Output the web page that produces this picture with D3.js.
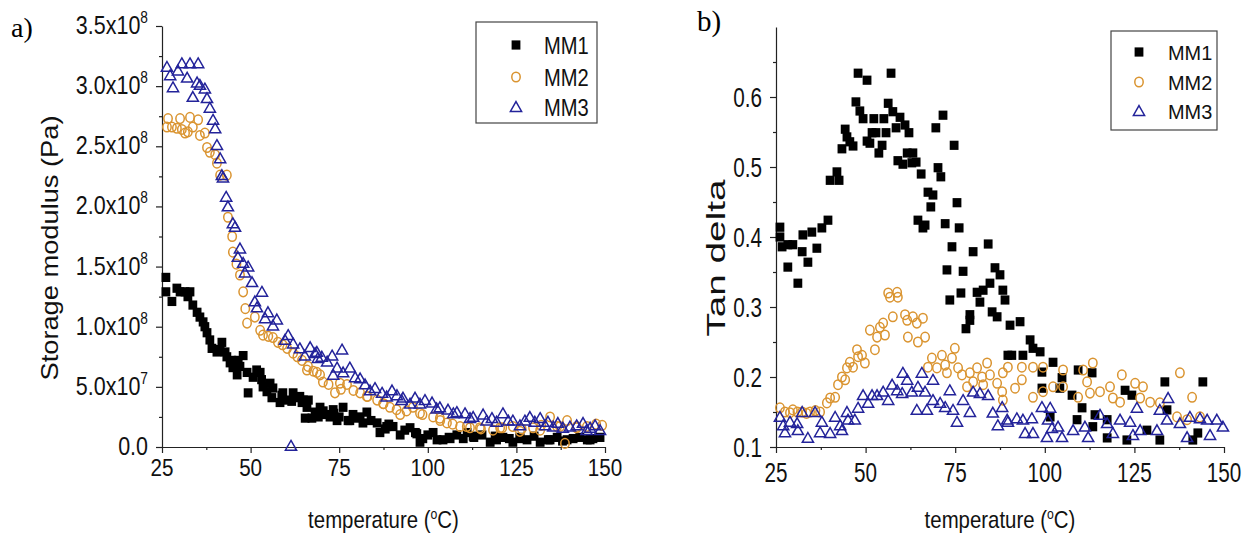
<!DOCTYPE html>
<html>
<head>
<meta charset="utf-8">
<script src="https://cdn.jsdelivr.net/npm/d3@7"></script>
<style>
  body { margin: 0; background: #fff; }
  svg { display: block; }
  text { fill: #111; }
</style>
</head>
<body>
<svg id="fig" width="1254" height="539"></svg>
<script>
// ---------- data ----------
const seriesNames = ["MM1", "MM2", "MM3"];
const temperatureTicks = [25, 50, 75, 100, 125, 150];
const temperatureMinorTicks = [37.5, 62.5, 87.5, 112.5, 137.5];
const storageTicks = [0, 0.5e8, 1.0e8, 1.5e8, 2.0e8, 2.5e8, 3.0e8, 3.5e8];
const storageMinorTicks = [0.25e8, 0.75e8, 1.25e8, 1.75e8, 2.25e8, 2.75e8, 3.25e8];
const tanTicks = [0.1, 0.2, 0.3, 0.4, 0.5, 0.6];
const tanMinorTicks = [0.15, 0.25, 0.35, 0.45, 0.55, 0.65];

// storage modulus, [temperature °C, E' in Pa]
const storageMM1 = [
  [26.1,1.41e8],[26.1,1.29e8],[27.8,1.21e8],[29.2,1.32e8],[30.1,1.29e8],[31.5,1.29e8],[32.3,1.25e8],
  [32.9,1.29e8],[33.7,1.18e8],[34.9,1.12e8],[35.7,1.08e8],[36.6,1.04e8],[37.1,1.00e8],[37.7,0.95e8],
  [38.5,0.89e8],[39.1,0.82e8],[40.5,0.79e8],[41.4,0.81e8],[41.9,0.87e8],[42.8,0.79e8],[43.3,0.75e8],
  [44.2,0.70e8],[44.7,0.72e8],[45.0,0.66e8],[46.2,0.60e8],[46.5,0.72e8],[47.0,0.67e8],[47.9,0.76e8],
  [49.0,0.62e8],[49.3,0.45e8],[50.7,0.58e8],[51.7,0.64e8],[52.7,0.62e8],[53.1,0.56e8],[53.5,0.50e8],
  [54.6,0.46e8],[55.5,0.53e8],[56.0,0.41e8],[56.3,0.49e8],[58.3,0.37e8],[58.8,0.43e8],[59.1,0.45e8],
  [60.3,0.39e8],[61.6,0.38e8],[62.0,0.45e8],[63.1,0.41e8],[63.9,0.42e8],[64.5,0.37e8],[64.9,0.39e8],
  [65.4,0.24e8],[65.9,0.33e8],[66.3,0.39e8],[67.3,0.24e8],[68.2,0.29e8],[69.1,0.25e8],[69.6,0.33e8],
  [70.5,0.30e8],[71.0,0.27e8],[72.4,0.25e8],[73.3,0.31e8],[73.5,0.28e8],[74.4,0.22e8],[75.0,0.25e8],
  [76.1,0.33e8],[77.5,0.22e8],[78.0,0.22e8],[78.9,0.27e8],[80.0,0.24e8],[80.9,0.25e8],[81.7,0.20e8],
  [82.8,0.29e8],[84.0,0.22e8],[85.7,0.20e8],[86.5,0.12e8],[88.0,0.15e8],[88.4,0.17e8],[89.0,0.19e8],
  [90.2,0.17e8],[92.2,0.10e8],[93.5,0.14e8],[95.0,0.16e8],[96.5,0.12e8],[96.9,0.11e8],[97.8,0.04e8],
  [98.6,0.07e8],[100.0,0.10e8],[101.5,0.12e8],[102.6,0.06e8],[104.3,0.06e8],[106.0,0.08e8],[106.3,0.07e8],
  [108.2,0.10e8],[110.0,0.07e8],[111.1,0.12e8],[112.8,0.09e8],[113.0,0.08e8],[115.3,0.10e8],[117.6,0.04e8],
  [119.0,0.09e8],[119.4,0.06e8],[121.2,0.08e8],[123.0,0.07e8],[124.0,0.04e8],[126.0,0.08e8],[126.0,0.07e8],
  [128.0,0.06e8],[130.0,0.09e8],[131.7,0.04e8],[134.0,0.06e8],[134.5,0.06e8],[136.5,0.08e8],[138.0,0.05e8],
  [139.3,0.06e8],[141.0,0.07e8],[142.9,0.08e8],[145.0,0.06e8],[145.8,0.06e8],[146.6,0.07e8],[148.6,0.08e8]
];
const storageMM2 = [
  [26.4,2.66e8],[26.7,2.73e8],[27.8,2.66e8],[29.2,2.65e8],[30.1,2.73e8],[30.6,2.64e8],[31.5,2.61e8],
  [32.3,2.62e8],[32.9,2.74e8],[33.7,2.66e8],[35.2,2.72e8],[35.7,2.59e8],[37.1,2.61e8],[37.7,2.49e8],
  [38.5,2.45e8],[40.0,2.43e8],[40.5,2.36e8],[41.4,2.26e8],[43.3,2.26e8],[43.6,1.91e8],[44.8,1.75e8],
  [45.0,1.62e8],[46.0,1.52e8],[47.0,1.43e8],[47.9,1.29e8],[48.5,1.15e8],[49.0,1.03e8],[51.2,1.08e8],
  [52.7,0.97e8],[53.5,0.93e8],[55.0,0.92e8],[56.3,0.91e8],[57.7,0.87e8],[59.0,0.85e8],[60.3,0.82e8],
  [62.0,0.78e8],[63.2,0.75e8],[64.5,0.72e8],[65.9,0.64e8],[66.2,0.67e8],[67.7,0.63e8],[68.7,0.62e8],
  [69.6,0.60e8],[70.4,0.54e8],[72.0,0.52e8],[73.8,0.45e8],[75.2,0.53e8],[75.5,0.48e8],[77.2,0.52e8],
  [79.0,0.47e8],[80.9,0.45e8],[82.8,0.42e8],[83.0,0.42e8],[85.7,0.39e8],[87.4,0.36e8],[87.5,0.36e8],
  [89.3,0.33e8],[91.2,0.31e8],[92.2,0.27e8],[94.0,0.30e8],[95.8,0.33e8],[97.8,0.28e8],[98.5,0.27e8],
  [101.5,0.25e8],[103.4,0.24e8],[103.5,0.22e8],[105.4,0.20e8],[107.0,0.19e8],[109.1,0.17e8],[111.0,0.17e8],
  [111.9,0.16e8],[114.7,0.16e8],[115.0,0.15e8],[118.4,0.14e8],[120.4,0.16e8],[121.0,0.16e8],[124.0,0.17e8],
  [126.0,0.13e8],[126.5,0.15e8],[129.7,0.16e8],[131.7,0.14e8],[132.0,0.18e8],[134.5,0.25e8],[136.5,0.17e8],
  [137.3,0.17e8],[138.7,0.03e8],[139.3,0.22e8],[142.0,0.16e8],[142.0,0.17e8],[144.9,0.17e8],[147.5,0.19e8],
  [149.2,0.18e8]
];
const storageMM3 = [
  [26.4,3.16e8],[27.3,3.09e8],[28.1,2.99e8],[29.5,3.13e8],[30.6,3.19e8],[32.1,3.07e8],[32.9,3.19e8],
  [33.7,2.91e8],[34.9,3.03e8],[35.2,3.19e8],[35.7,3.01e8],[37.1,2.98e8],[37.7,2.90e8],[38.5,2.82e8],
  [39.4,2.72e8],[40.0,2.65e8],[40.5,2.51e8],[41.4,2.40e8],[41.9,2.26e8],[42.2,2.24e8],[43.1,2.08e8],
  [43.6,2.00e8],[45.0,1.86e8],[45.6,1.83e8],[46.4,1.58e8],[47.0,1.65e8],[47.9,1.53e8],[48.4,1.45e8],
  [49.3,1.50e8],[50.4,1.37e8],[51.2,1.21e8],[51.8,1.16e8],[53.2,1.29e8],[54.1,1.07e8],[54.9,1.12e8],
  [56.3,1.01e8],[57.4,1.06e8],[59.7,0.89e8],[60.6,0.93e8],[61.4,0.01e8],[62.0,0.86e8],[63.9,0.82e8],
  [65.3,0.76e8],[66.8,0.83e8],[68.2,0.78e8],[68.7,0.79e8],[69.0,0.74e8],[70.1,0.75e8],[71.6,0.71e8],
  [73.0,0.76e8],[73.3,0.60e8],[74.4,0.66e8],[75.8,0.81e8],[76.1,0.62e8],[78.0,0.66e8],[79.5,0.58e8],
  [80.9,0.57e8],[82.3,0.52e8],[83.7,0.47e8],[85.1,0.49e8],[87.1,0.45e8],[88.4,0.42e8],[89.9,0.47e8],
  [91.3,0.43e8],[92.6,0.39e8],[93.0,0.41e8],[95.0,0.36e8],[96.4,0.41e8],[97.8,0.36e8],[99.2,0.39e8],
  [101.2,0.37e8],[102.5,0.32e8],[103.4,0.33e8],[105.7,0.31e8],[107.2,0.28e8],[108.2,0.29e8],[110.5,0.28e8],
  [111.9,0.24e8],[112.8,0.25e8],[115.6,0.27e8],[116.6,0.22e8],[118.1,0.24e8],[119.4,0.21e8],[121.2,0.28e8],
  [122.7,0.22e8],[124.0,0.22e8],[126.0,0.18e8],[127.4,0.22e8],[128.8,0.25e8],[130.2,0.21e8],[131.7,0.24e8],
  [133.1,0.18e8],[133.9,0.21e8],[135.4,0.17e8],[136.7,0.20e8],[138.1,0.16e8],[140.1,0.17e8],[142.0,0.18e8],
  [143.8,0.20e8],[144.8,0.14e8],[145.8,0.16e8],[147.2,0.18e8],[148.6,0.14e8]
];

// tan delta, [temperature °C, tan δ]
const tanMM1 = [
  [26.1,0.414],[26.1,0.400],[26.7,0.386],[28.3,0.389],[28.3,0.357],[29.7,0.389],[31.1,0.334],[32.3,0.379],
  [32.5,0.403],[33.9,0.364],[35.0,0.407],[36.4,0.384],[37.8,0.413],[39.5,0.424],[40.1,0.481],[42.0,0.493],
  [42.6,0.481],[43.4,0.526],[44.3,0.554],[44.8,0.543],[45.6,0.536],[46.5,0.530],[47.3,0.593],[47.9,0.634],
  [48.4,0.580],[49.3,0.569],[50.4,0.624],[50.4,0.537],[51.2,0.534],[51.8,0.549],[52.3,0.569],[52.9,0.549],
  [53.7,0.520],[54.6,0.531],[55.1,0.569],[55.7,0.549],[56.3,0.591],[57.1,0.634],[57.6,0.579],[58.5,0.556],
  [59.0,0.509],[59.6,0.571],[60.4,0.504],[61.0,0.560],[61.6,0.520],[62.1,0.549],[62.9,0.506],[63.2,0.520],
  [64.1,0.507],[64.6,0.424],[65.5,0.490],[66.0,0.413],[66.6,0.417],[67.4,0.464],[68.2,0.443],[68.8,0.460],
  [69.6,0.556],[70.2,0.499],[71.0,0.486],[71.6,0.574],[72.2,0.419],[72.7,0.353],[73.5,0.310],[74.1,0.386],
  [74.7,0.531],[75.5,0.449],[76.1,0.413],[76.6,0.320],[77.2,0.351],[78.0,0.269],[79.1,0.281],[79.1,0.289],
  [80.0,0.379],[81.1,0.321],[81.9,0.307],[82.8,0.324],[84.2,0.390],[84.7,0.334],[85.3,0.293],[86.1,0.356],
  [86.7,0.286],[87.5,0.346],[88.3,0.324],[88.9,0.310],[89.7,0.231],[90.3,0.274],[90.8,0.231],[93.1,0.279],
  [93.9,0.231],[95.9,0.253],[96.7,0.241],[98.7,0.236],[99.2,0.207],[99.2,0.184],[101.5,0.143],[102.3,0.221],
  [104.2,0.184],[104.8,0.199],[107.6,0.174],[109.0,0.139],[109.3,0.210],[110.4,0.156],[113.2,0.206],
  [113.4,0.129],[114.0,0.146],[117.4,0.139],[117.4,0.113],[122.4,0.181],[122.9,0.110],[124.3,0.174],
  [128.5,0.124],[132.1,0.110],[133.5,0.193],[134.1,0.153],[141.3,0.110],[142.7,0.120],[144.1,0.193]
];
const tanMM2 = [
  [26.1,0.156],[27.5,0.150],[28.9,0.149],[29.7,0.153],[31.0,0.150],[32.3,0.150],[33.5,0.148],[34.5,0.150],
  [36.0,0.152],[37.3,0.150],[39.2,0.163],[40.1,0.170],[41.5,0.171],[42.3,0.189],[43.4,0.200],[44.3,0.196],
  [44.8,0.213],[45.6,0.221],[46.5,0.214],[47.6,0.239],[47.9,0.229],[49.0,0.231],[49.8,0.220],[51.2,0.267],
  [52.6,0.239],[53.2,0.257],[54.0,0.271],[54.9,0.277],[55.4,0.260],[56.3,0.320],[56.8,0.314],[57.6,0.286],
  [58.8,0.321],[59.0,0.314],[61.0,0.289],[61.6,0.281],[61.8,0.257],[63.2,0.286],[64.3,0.277],[64.6,0.250],
  [66.0,0.284],[66.6,0.257],[67.4,0.214],[68.5,0.227],[69.9,0.213],[71.3,0.231],[72.2,0.217],[72.7,0.206],
  [74.1,0.227],[74.9,0.241],[75.8,0.213],[76.9,0.203],[78.3,0.186],[79.1,0.206],[80.0,0.193],[81.1,0.213],
  [82.5,0.200],[82.8,0.189],[83.9,0.220],[84.7,0.203],[86.7,0.191],[88.1,0.179],[88.3,0.206],[88.3,0.167],
  [89.7,0.214],[91.7,0.184],[93.6,0.214],[93.6,0.196],[96.7,0.214],[96.7,0.171],[99.5,0.214],[99.5,0.179],
  [102.3,0.186],[105.1,0.210],[105.1,0.186],[109.3,0.171],[110.7,0.210],[111.8,0.193],[112.6,0.177],
  [113.4,0.220],[115.4,0.179],[118.2,0.186],[119.0,0.170],[121.0,0.164],[121.5,0.203],[125.2,0.191],
  [126.6,0.170],[127.4,0.186],[129.4,0.164],[132.1,0.163],[136.9,0.143],[137.7,0.206],[139.7,0.139],
  [141.1,0.171],[143.3,0.143]
];
const tanMM3 = [
  [26.1,0.143],[27.0,0.131],[27.5,0.121],[28.9,0.136],[30.9,0.134],[31.1,0.124],[32.3,0.150],[33.9,0.113],
  [35.9,0.150],[37.3,0.121],[37.8,0.136],[40.1,0.120],[41.5,0.143],[42.9,0.131],[43.4,0.124],[44.8,0.150],
  [45.1,0.139],[47.0,0.139],[47.9,0.156],[49.3,0.174],[50.7,0.163],[51.8,0.174],[53.2,0.174],[54.9,0.179],
  [56.3,0.167],[57.4,0.189],[58.8,0.181],[60.2,0.177],[60.4,0.206],[61.6,0.196],[62.9,0.179],[64.3,0.153],
  [64.6,0.186],[65.7,0.206],[66.6,0.179],[67.1,0.153],[68.8,0.196],[68.8,0.167],[70.8,0.163],[72.2,0.157],
  [73.5,0.181],[74.4,0.153],[75.5,0.136],[77.2,0.167],[79.1,0.150],[80.0,0.179],[81.9,0.177],[84.2,0.174],
  [85.5,0.149],[86.9,0.131],[88.1,0.157],[89.5,0.139],[89.7,0.136],[92.2,0.141],[93.9,0.139],[94.5,0.120],
  [96.4,0.141],[96.7,0.120],[99.2,0.157],[100.6,0.114],[100.9,0.139],[101.5,0.156],[102.0,0.127],
  [103.7,0.129],[104.8,0.114],[107.9,0.124],[111.2,0.129],[112.1,0.114],[115.4,0.146],[117.4,0.134],
  [119.0,0.120],[121.0,0.139],[123.8,0.136],[124.6,0.117],[125.7,0.156],[126.6,0.124],[131.3,0.124],
  [132.1,0.153],[134.1,0.139],[134.4,0.170],[137.7,0.134],[139.7,0.114],[140.5,0.143],[143.3,0.141],
  [145.3,0.139],[146.1,0.117],[148.0,0.139],[149.7,0.129]
];

// ---------- drawing ----------
const SANS = '"Liberation Sans", Arial, sans-serif';
const SERIF = '"Liberation Serif", "Times New Roman", serif';
const INK = "#222";
const svg = d3.select("#fig");
const seriesStyle = {
  MM1: { kind: "square",   color: "#000000" },
  MM2: { kind: "circle",   color: "#da9430" },
  MM3: { kind: "triangle", color: "#23239a" }
};

function drawMarker(g, name) {
  const s = seriesStyle[name];
  if (s.kind === "square") {
    g.append("rect").attr("x", -4.4).attr("y", -4.6).attr("width", 8.8).attr("height", 9.2)
      .attr("fill", s.color);
  } else if (s.kind === "circle") {
    g.append("ellipse").attr("rx", 4.2).attr("ry", 4.8)
      .attr("fill", "none").attr("stroke", s.color).attr("stroke-width", 1.5);
  } else {
    g.append("path").attr("d", "M0,-5.4L5.6,4.4L-5.6,4.4Z")
      .attr("fill", "none").attr("stroke", s.color).attr("stroke-width", 1.5);
  }
}

// sans text squeezed horizontally, anchored at (x, y)
function squeezedText(parent, x, y, size, sx, anchor) {
  return parent.append("text")
    .attr("transform", `translate(${x},${y}) scale(${sx},1)`)
    .attr("text-anchor", anchor)
    .style("font-family", SANS)
    .attr("font-size", size);
}

function sciParts(v) {
  if (v === 0) return ["0.0", null];
  const e = Math.floor(Math.log10(v) + 1e-9);
  return [(v / Math.pow(10, e)).toFixed(1) + "x10", String(e)];
}

function drawPanel(cfg) {
  const g = svg.append("g");
  const x = d3.scaleLinear().domain([25, 150]).range(cfg.xRange);
  const y = d3.scaleLinear().domain(cfg.yDomain).range(cfg.yRange);
  const base = cfg.yRange[0];

  // axes: major ticks, then minor ticks
  g.append("g").attr("transform", `translate(0,${base})`)
    .call(d3.axisBottom(x).tickValues(temperatureTicks).tickSize(6).tickSizeOuter(0).tickFormat(""));
  g.append("g").attr("transform", `translate(0,${base})`)
    .call(d3.axisBottom(x).tickValues(temperatureMinorTicks).tickSize(3).tickFormat(""))
    .call(a => a.select(".domain").remove());
  g.append("g").attr("transform", `translate(${cfg.xRange[0]},0)`)
    .call(d3.axisLeft(y).tickValues(cfg.yTicks).tickSize(6).tickSizeOuter(0).tickFormat(""));
  g.append("g").attr("transform", `translate(${cfg.xRange[0]},0)`)
    .call(d3.axisLeft(y).tickValues(cfg.yMinor).tickSize(3).tickFormat(""))
    .call(a => a.select(".domain").remove());
  g.selectAll(".domain, .tick line").attr("stroke", INK).attr("stroke-width", 1.2);

  // x tick labels
  temperatureTicks.forEach(t => {
    squeezedText(g, x(t), base + cfg.xLabelDy, cfg.xLabelSize, cfg.xLabelSx, "middle").text(t);
  });

  // y tick labels
  cfg.yTicks.forEach(v => {
    const tx = squeezedText(g, cfg.xRange[0] - cfg.yLabelGap, y(v) + cfg.yLabelDy, cfg.yLabelSize, cfg.yLabelSx, "end");
    cfg.yFormat(tx, v);
  });

  // x axis title with a raised degree "o"
  const xt = squeezedText(g, (cfg.xRange[0] + cfg.xRange[1]) / 2, cfg.xTitleY, cfg.xTitleSize, cfg.xTitleSx, "middle");
  xt.append("tspan").text("temperature (");
  xt.append("tspan").attr("font-size", cfg.xTitleSize * 0.6).attr("dy", -9).text("o");
  xt.append("tspan").attr("dy", 9).text("C)");

  // y axis title
  g.append("text")
    .attr("transform", `translate(${cfg.yTitleX},${cfg.yTitleY}) rotate(-90)`)
    .attr("text-anchor", "middle").style("font-family", SANS).attr("font-size", cfg.yTitleSize)
    .attr("textLength", cfg.yTitleLen).attr("lengthAdjust", "spacingAndGlyphs")
    .text(cfg.yTitle);

  // panel letter
  g.append("text").attr("x", cfg.letterX).attr("y", cfg.letterY)
    .style("font-family", SERIF)
    .attr("font-size", cfg.letterSize).style("fill", "#000").text(cfg.letter);

  // data points
  seriesNames.forEach(name => {
    const layer = g.append("g");
    cfg.data[name].forEach(d => {
      const m = layer.append("g").attr("transform", `translate(${x(d[0])},${y(d[1])})`);
      drawMarker(m, name);
    });
  });

  // legend
  const L = cfg.legend;
  g.append("rect").attr("x", L.x0).attr("y", L.y0).attr("width", L.x1 - L.x0).attr("height", L.y1 - L.y0)
    .attr("fill", "#fff").attr("stroke", "#444").attr("stroke-width", 1.2);
  seriesNames.forEach((name, i) => {
    const ry = L.rows[i];
    drawMarker(g.append("g").attr("transform", `translate(${L.mx},${ry})`), name);
    squeezedText(g, L.tx, ry + L.textDy, L.size, L.sx, "start").text(name);
  });
}

drawPanel({
  letter: "a)", letterX: 11, letterY: 37, letterSize: 28,
  xRange: [162, 605], yDomain: [0, 3.5e8], yRange: [447, 26],
  yTicks: storageTicks, yMinor: storageMinorTicks,
  xLabelDy: 29, xLabelSize: 24, xLabelSx: 0.86,
  yLabelGap: 14, yLabelDy: 8, yLabelSize: 25, yLabelSx: 0.86,
  yFormat: (t, v) => {
    const [m, e] = sciParts(v);
    t.append("tspan").text(m);
    if (e) t.append("tspan").attr("font-size", 16).attr("dy", -11).text(e);
  },
  xTitleY: 528, xTitleSize: 24, xTitleSx: 0.85,
  yTitle: "Storage modulus (Pa)", yTitleX: 58, yTitleY: 248, yTitleSize: 24, yTitleLen: 265,
  data: { MM1: storageMM1, MM2: storageMM2, MM3: storageMM3 },
  legend: { x0: 476, x1: 597, y0: 22, y1: 123, rows: [45, 77, 107], mx: 516, tx: 544, textDy: 9, size: 24, sx: 0.84 }
});

drawPanel({
  letter: "b)", letterX: 697, letterY: 31, letterSize: 29,
  xRange: [776, 1224], yDomain: [0.1, 0.7], yRange: [447, 27],
  yTicks: tanTicks, yMinor: tanMinorTicks,
  xLabelDy: 35, xLabelSize: 28, xLabelSx: 0.74,
  yLabelGap: 14, yLabelDy: 10, yLabelSize: 28, yLabelSx: 0.74,
  yFormat: (t, v) => { t.text(v.toFixed(1)); },
  xTitleY: 528, xTitleSize: 24, xTitleSx: 0.85,
  yTitle: "Tan delta", yTitleX: 725, yTitleY: 258, yTitleSize: 26, yTitleLen: 157,
  data: { MM1: tanMM1, MM2: tanMM2, MM3: tanMM3 },
  legend: { x0: 1111, x1: 1217, y0: 31, y1: 130, rows: [52, 82, 111], mx: 1139, tx: 1168, textDy: 8, size: 21, sx: 0.95 }
});
</script>
</body>
</html>
